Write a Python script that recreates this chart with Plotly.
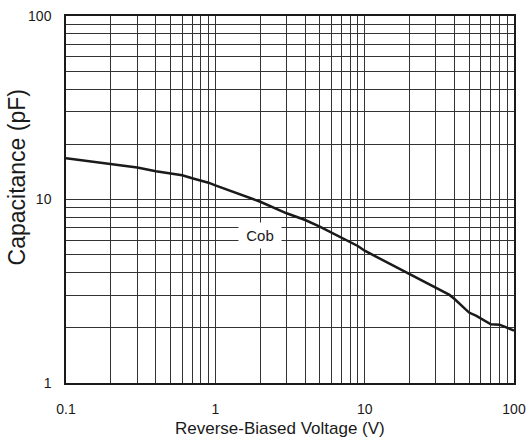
import math
import plotly.graph_objects as go

# Data
voltage = [0.1, 0.2, 0.3, 0.4, 0.5, 0.6, 0.7, 0.8, 0.9, 1, 2, 3, 4, 5, 6, 7, 8, 9, 10,
           15, 20, 26, 30, 37, 40, 43.5, 50, 56, 60, 70, 80, 90, 100]
cob = [16.8, 15.6, 14.95, 14.25, 13.8, 13.55, 13.05, 12.72, 12.35, 11.94, 9.72, 8.41,
       7.73, 7.11, 6.59, 6.17, 5.87, 5.58, 5.26, 4.42, 3.91, 3.51, 3.28, 3.02, 2.87,
       2.69, 2.42, 2.32, 2.25, 2.09, 2.08, 1.99, 1.93]

x_grid = [m * 10 ** e for e in (-1, 0, 1) for m in range(1, 10)] + [100]
x_ticktext = ["0.1", "", "", "", "", "", "", "", "",
              "1", "", "", "", "", "", "", "", "",
              "10", "", "", "", "", "", "", "", "", "100"]
y_grid = [m * 10 ** e for e in (0, 1) for m in range(1, 10)] + [100]
y_ticktext = ["1", "", "", "", "", "", "", "", "",
              "10", "", "", "", "", "", "", "", "", "100"]

label_text = "Cob"
label_x, label_y = 2.0, 6.37
x_title = "Reverse-Biased Voltage (V)"
y_title = "Capacitance (pF)"

FONT = "Liberation Sans, Arial, sans-serif"
TXT = "#1a1a1a"

fig = go.Figure()
fig.add_trace(go.Scatter(x=voltage, y=cob, mode="lines",
                         line=dict(color="#1a1a1a", width=2.5),
                         showlegend=False, hoverinfo="skip"))

fig.update_layout(
    width=530, height=441,
    margin=dict(l=66, r=16, t=16, b=58, autoexpand=False),
    paper_bgcolor="white", plot_bgcolor="white",
    font=dict(family=FONT, color=TXT, size=14),
    showlegend=False,
)
fig.update_xaxes(type="log", range=[-1, 2], tickvals=x_grid, ticktext=x_ticktext,
                 showgrid=True, gridcolor="#333333", gridwidth=1, automargin=False,
                 showline=True, linecolor="#1a1a1a", linewidth=1.5, mirror=True,
                 ticks="", ticklabelstandoff=12, zeroline=False,
                 tickfont=dict(size=14, family=FONT, color=TXT))
fig.update_yaxes(type="log", range=[0, 2], tickvals=y_grid, ticktext=y_ticktext,
                 showgrid=True, gridcolor="#333333", gridwidth=1, automargin=False,
                 showline=True, linecolor="#1a1a1a", linewidth=1.5, mirror=True,
                 ticks="", ticklabelstandoff=10, zeroline=False,
                 tickfont=dict(size=14, family=FONT, color=TXT))

fig.add_annotation(x=math.log10(label_x), y=math.log10(label_y), xref="x", yref="y",
                   text=label_text, showarrow=False, bgcolor="white",
                   width=42, height=25, borderpad=0,
                   font=dict(size=15, family=FONT, color=TXT))
fig.add_annotation(x=0.4777, y=-0.125, xref="paper", yref="paper",
                   text=x_title, showarrow=False, xanchor="center", yanchor="middle",
                   font=dict(size=17, family=FONT, color=TXT))
fig.add_annotation(x=-0.1094, y=0.56, xref="paper", yref="paper",
                   text=y_title, showarrow=False, textangle=-90,
                   xanchor="center", yanchor="middle",
                   font=dict(size=23, family=FONT, color=TXT))

fig.write_html("out.html")
